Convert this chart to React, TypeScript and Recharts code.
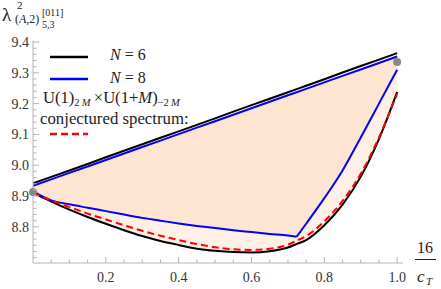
import { ComposedChart, Line, Area, XAxis, YAxis, ReferenceDot } from 'recharts'

// 16/c_T sample points (0.724 = kink of the N=8 lower bound)
const xs = [0, 0.05, 0.1, 0.15, 0.2, 0.25, 0.3, 0.35, 0.4, 0.45, 0.5, 0.55, 0.6, 0.65, 0.7, 0.724, 0.75, 0.8, 0.85, 0.9, 0.95, 1.0]
const KINK = 15

const n6Upper = [8.941, 8.962, 8.983, 9.004, 9.026, 9.047, 9.068, 9.089, 9.11, 9.131, 9.152, 9.174, 9.195, 9.216, 9.237, 9.247, 9.258, 9.279, 9.301, 9.322, 9.343, 9.364]
const n6Lower = [8.91, 8.882, 8.856, 8.832, 8.81, 8.789, 8.77, 8.754, 8.741, 8.729, 8.722, 8.718, 8.717, 8.721, 8.733, 8.744, 8.757, 8.805, 8.872, 8.963, 9.085, 9.238]
const n8Upper = [8.933, 8.954, 8.975, 8.996, 9.017, 9.038, 9.059, 9.08, 9.101, 9.122, 9.143, 9.164, 9.185, 9.206, 9.227, 9.237, 9.248, 9.269, 9.29, 9.311, 9.332, 9.353]
const n8Lower = [8.915, 8.886, 8.873, 8.862, 8.851, 8.84, 8.829, 8.82, 8.811, 8.803, 8.796, 8.789, 8.783, 8.777, 8.772, 8.768, 8.81, 8.893, 8.983, 9.09, 9.2, 9.31]
const conjectured = [8.91, 8.886, 8.864, 8.843, 8.824, 8.805, 8.787, 8.771, 8.757, 8.744, 8.734, 8.727, 8.725, 8.729, 8.742, 8.755, 8.77, 8.818, 8.884, 8.972, 9.09, 9.232]

const endpoints = [
  { x: 0, y: 8.913 },
  { x: 1.0, y: 9.335 },
]

const xTicks = [0.05, 0.1, 0.15, 0.2, 0.25, 0.3, 0.35, 0.4, 0.45, 0.5, 0.55, 0.6, 0.65, 0.7, 0.75, 0.8, 0.85, 0.9, 0.95, 1.0]
const yTicks = [8.7, 8.72, 8.74, 8.76, 8.78, 8.8, 8.82, 8.84, 8.86, 8.88, 8.9, 8.92, 8.94, 8.96, 8.98, 9.0, 9.02, 9.04, 9.06, 9.08, 9.1, 9.12, 9.14, 9.16, 9.18, 9.2, 9.22, 9.24, 9.26, 9.28, 9.3, 9.32, 9.34, 9.36, 9.38, 9.4]
const yLabelled = [8.8, 8.9, 9.0, 9.1, 9.2, 9.3, 9.4]

const data = xs.map((x, i) => ({
  x,
  n6Upper: n6Upper[i],
  n6Lower: n6Lower[i],
  n8Upper: n8Upper[i],
  n8LowerL: i <= KINK ? n8Lower[i] : null,
  n8LowerR: i >= KINK ? n8Lower[i] : null,
  conjectured: conjectured[i],
  band6: [n6Lower[i], n6Upper[i]],
  band8: [n8Lower[i], n8Upper[i]],
}))

const W = 441
const H = 289
const LEFT = 33
const BOTTOM = 263
const AXIS = '#b4b4b4'
const SERIF = '"Liberation Serif", "Times New Roman", Times, serif'
const TXT = '#333'

const isMajor = (v: number, step: number) => Math.abs(v / step - Math.round(v / step)) < 1e-6

function YTick({ y, payload }: any) {
  const v = payload.value as number
  const major = yLabelled.some(t => Math.abs(t - v) < 1e-6)
  return (
    <g>
      <line x1={LEFT} x2={LEFT + (major ? 6 : 3.5)} y1={y} y2={y} stroke={AXIS} />
      {major && (
        <text x={29} y={y + 5} textAnchor="end" fontFamily={SERIF} fontSize={14} fill={TXT}>
          {v.toFixed(1)}
        </text>
      )}
    </g>
  )
}

function XTick({ x, payload }: any) {
  const v = payload.value as number
  const major = isMajor(v, 0.2)
  return (
    <g>
      <line x1={x} x2={x} y1={BOTTOM} y2={BOTTOM - (major ? 6 : 3.5)} stroke={AXIS} />
      {major && (
        <text x={x} y={282} textAnchor="middle" fontFamily={SERIF} fontSize={14} fill={TXT}>
          {v.toFixed(1)}
        </text>
      )}
    </g>
  )
}

const abs = (left: number, top: number, size: number, extra: object = {}) => ({
  position: 'absolute' as const,
  left,
  top,
  fontSize: size,
  fontFamily: SERIF,
  color: '#222',
  lineHeight: 1,
  whiteSpace: 'nowrap' as const,
  ...extra,
})

const sub = { fontSize: 10.5, position: 'relative' as const, top: 2.5 }

export default function App() {
  return (
    <div style={{ position: 'absolute', left: 0, top: 0, width: W, height: H, background: '#fff' }}>
      <ComposedChart
        width={W}
        height={H}
        data={data}
        margin={{ top: 40.5, right: 38, bottom: H - BOTTOM - 1, left: LEFT - 1 }}
      >
        <XAxis
          type="number"
          dataKey="x"
          domain={[0, 1.016]}
          allowDataOverflow
          ticks={xTicks}
          interval={0}
          height={1}
          axisLine={{ stroke: AXIS }}
          tickLine={false}
          tick={XTick}
        />
        <YAxis
          type="number"
          domain={[8.6825, 9.405]}
          allowDataOverflow
          ticks={yTicks}
          interval={0}
          width={1}
          axisLine={{ stroke: AXIS }}
          tickLine={false}
          tick={YTick}
        />

        <Area type="linear" dataKey="band6" stroke="none" fill="#fef0e5" fillOpacity={1} isAnimationActive={false} />
        <Area type="linear" dataKey="band8" stroke="none" fill="#fde5d1" fillOpacity={1} isAnimationActive={false} />

        <Line type="linear" dataKey="n6Upper" stroke="#000" strokeWidth={2} dot={false} isAnimationActive={false} />
        <Line type="linear" dataKey="n8Upper" stroke="#0000ff" strokeWidth={2} dot={false} isAnimationActive={false} />
        <Line type="monotone" dataKey="n6Lower" stroke="#000" strokeWidth={2} dot={false} isAnimationActive={false} />
        <Line type="monotone" dataKey="n8LowerL" stroke="#0000ff" strokeWidth={2} dot={false} isAnimationActive={false} />
        <Line type="monotone" dataKey="n8LowerR" stroke="#0000ff" strokeWidth={2} dot={false} isAnimationActive={false} />
        <Line
          type="monotone"
          dataKey="conjectured"
          stroke="#ff0000"
          strokeWidth={2}
          strokeDasharray="7 4"
          dot={false}
          isAnimationActive={false}
        />

        {endpoints.map((p, i) => (
          <ReferenceDot key={i} x={p.x} y={p.y} r={4} fill="#888" stroke="none" ifOverflow="visible" />
        ))}
      </ComposedChart>

      {/* y label: λ²_(A,2)_{5,3}^[011] */}
      <div style={abs(2, 5, 19)}>λ</div>
      <div style={abs(17, 0, 11)}>2</div>
      <div style={abs(15, 13, 12)}>
        (<i>A</i>,2)
      </div>
      <div style={abs(42, 20, 10)}>5,3</div>
      <div style={abs(42, 8, 10)}>[011]</div>

      {/* x label: 16 / c_T */}
      <div style={abs(417, 240, 16)}>16</div>
      <div style={{ position: 'absolute', left: 415, top: 259, width: 21, height: 1, background: '#222' }} />
      <div style={abs(417, 268, 17)}>
        <i>c</i>
      </div>
      <div style={abs(426, 276, 11)}>
        <i>T</i>
      </div>

      {/* legend */}
      <svg style={{ position: 'absolute', left: 0, top: 0 }} width={W} height={H}>
        <line x1={50} x2={88} y1={57} y2={57} stroke="#000" strokeWidth={2.5} />
        <line x1={50} x2={88} y1={79} y2={79} stroke="#0000ff" strokeWidth={2.5} />
        <line x1={50} x2={88} y1={134} y2={134} stroke="#ff0000" strokeWidth={2.5} strokeDasharray="7 4" />
      </svg>
      <div style={abs(110, 47, 16)}>
        <i>N</i> = 6
      </div>
      <div style={abs(110, 70, 16)}>
        <i>N</i> = 8
      </div>
      <div style={abs(43, 90, 16.6)}>
        U(1)<span style={sub}>2&thinsp;<i>M</i></span>&thinsp;×U(1+<i>M</i>)<span style={sub}>−2&thinsp;<i>M</i></span>
      </div>
      <div style={abs(40, 111, 16.8)}>conjectured spectrum:</div>
    </div>
  )
}
